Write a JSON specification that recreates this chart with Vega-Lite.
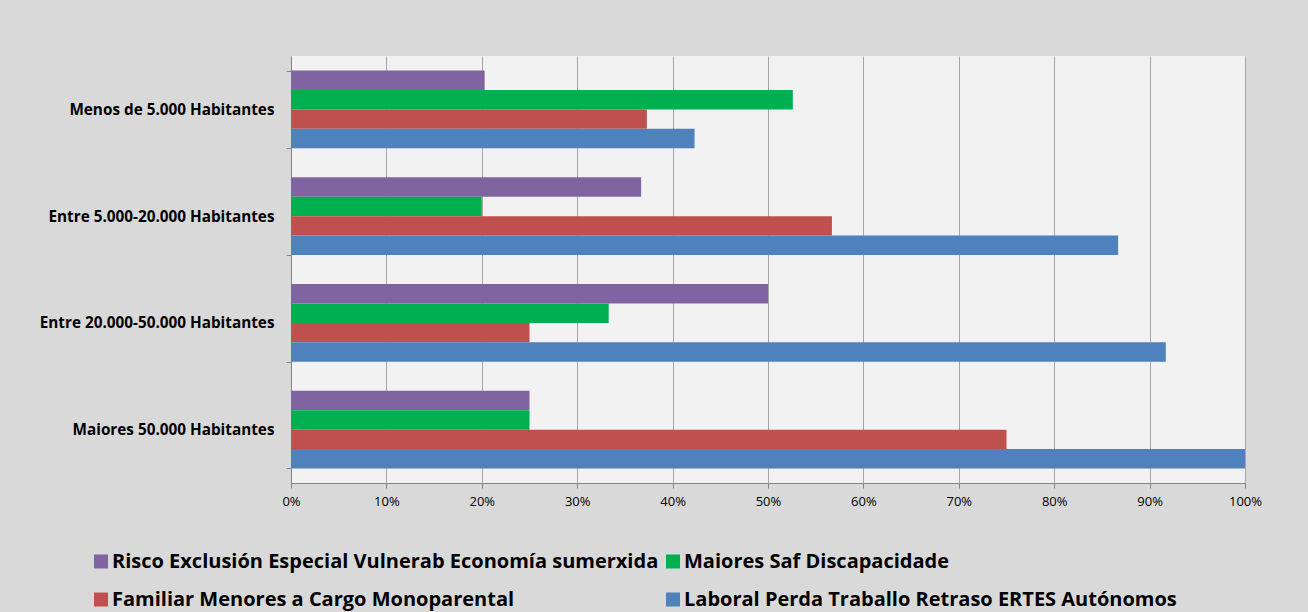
{
  "$schema": "https://vega.github.io/schema/vega-lite/v6.json",
  "width": 954,
  "height": 427,
  "autosize": {"type": "none"},
  "padding": {"left": 291, "top": 56, "right": 63, "bottom": 129},
  "background": "#d9d9d9",
  "config": {"view": {"fill": "#f2f2f2", "stroke": null}, "font": "Open Sans"},
  "data": {"values": [
    {"cat": "Menos de 5.000 Habitantes", "series": "Risco Exclusión Especial Vulnerab Economía sumerxida", "value": 0.203},
    {"cat": "Menos de 5.000 Habitantes", "series": "Maiores Saf Discapacidade", "value": 0.526},
    {"cat": "Menos de 5.000 Habitantes", "series": "Familiar Menores a Cargo Monoparental", "value": 0.373},
    {"cat": "Menos de 5.000 Habitantes", "series": "Laboral Perda Traballo Retraso ERTES  Autónomos", "value": 0.423},
    {"cat": "Entre 5.000-20.000 Habitantes", "series": "Risco Exclusión Especial Vulnerab Economía sumerxida", "value": 0.367},
    {"cat": "Entre 5.000-20.000 Habitantes", "series": "Maiores Saf Discapacidade", "value": 0.2},
    {"cat": "Entre 5.000-20.000 Habitantes", "series": "Familiar Menores a Cargo Monoparental", "value": 0.567},
    {"cat": "Entre 5.000-20.000 Habitantes", "series": "Laboral Perda Traballo Retraso ERTES  Autónomos", "value": 0.867},
    {"cat": "Entre 20.000-50.000 Habitantes", "series": "Risco Exclusión Especial Vulnerab Economía sumerxida", "value": 0.5},
    {"cat": "Entre 20.000-50.000 Habitantes", "series": "Maiores Saf Discapacidade", "value": 0.333},
    {"cat": "Entre 20.000-50.000 Habitantes", "series": "Familiar Menores a Cargo Monoparental", "value": 0.25},
    {"cat": "Entre 20.000-50.000 Habitantes", "series": "Laboral Perda Traballo Retraso ERTES  Autónomos", "value": 0.917},
    {"cat": "Maiores 50.000 Habitantes", "series": "Risco Exclusión Especial Vulnerab Economía sumerxida", "value": 0.25},
    {"cat": "Maiores 50.000 Habitantes", "series": "Maiores Saf Discapacidade", "value": 0.25},
    {"cat": "Maiores 50.000 Habitantes", "series": "Familiar Menores a Cargo Monoparental", "value": 0.75},
    {"cat": "Maiores 50.000 Habitantes", "series": "Laboral Perda Traballo Retraso ERTES  Autónomos", "value": 1.0}
  ]},
  "mark": {"type": "bar"},
  "encoding": {
    "y": {
      "field": "cat", "type": "nominal",
      "sort": ["Menos de 5.000 Habitantes", "Entre 5.000-20.000 Habitantes", "Entre 20.000-50.000 Habitantes", "Maiores 50.000 Habitantes"],
      "scale": {"paddingInner": 0.274, "paddingOuter": 0.137},
      "axis": {"title": null, "tickBand": "extent", "labelFontWeight": "bold", "labelFontSize": 15.3, "labelLimit": 400, "labelColor": "#000000", "domainColor": "#868686", "tickColor": "#868686", "tickSize": 5, "labelPadding": 12, "grid": false}
    },
    "yOffset": {
      "field": "series", "type": "nominal",
      "sort": ["Risco Exclusión Especial Vulnerab Economía sumerxida", "Maiores Saf Discapacidade", "Familiar Menores a Cargo Monoparental", "Laboral Perda Traballo Retraso ERTES  Autónomos"],
      "scale": {"paddingInner": 0, "paddingOuter": 0}
    },
    "x": {
      "field": "value", "type": "quantitative",
      "scale": {"domain": [0, 1], "nice": false},
      "axis": {"title": null, "format": ".0%", "values": [0, 0.1, 0.2, 0.3, 0.4, 0.5, 0.6, 0.7, 0.8, 0.9, 1.0], "labelFontSize": 13, "labelColor": "#000000", "domainColor": "#868686", "tickColor": "#868686", "tickSize": 5, "labelPadding": 7, "gridColor": "#a6a6a6", "gridOpacity": 1, "labelFlush": false}
    },
    "color": {
      "field": "series", "type": "nominal",
      "scale": {
        "domain": ["Risco Exclusión Especial Vulnerab Economía sumerxida", "Maiores Saf Discapacidade", "Familiar Menores a Cargo Monoparental", "Laboral Perda Traballo Retraso ERTES  Autónomos"],
        "range": ["#8064a2", "#00b050", "#c0504d", "#4f81bd"]
      },
      "legend": {"title": null, "orient": "none", "direction": "horizontal", "legendX": -200, "legendY": 495.5, "columns": 2, "symbolType": "square", "symbolSize": 196, "symbolStrokeWidth": 0, "labelFontSize": 20, "labelFontWeight": "bold", "labelColor": "#000000", "labelLimit": 800, "labelOffset": 1, "rowPadding": 18, "columnPadding": 4}
    }
  }
}
